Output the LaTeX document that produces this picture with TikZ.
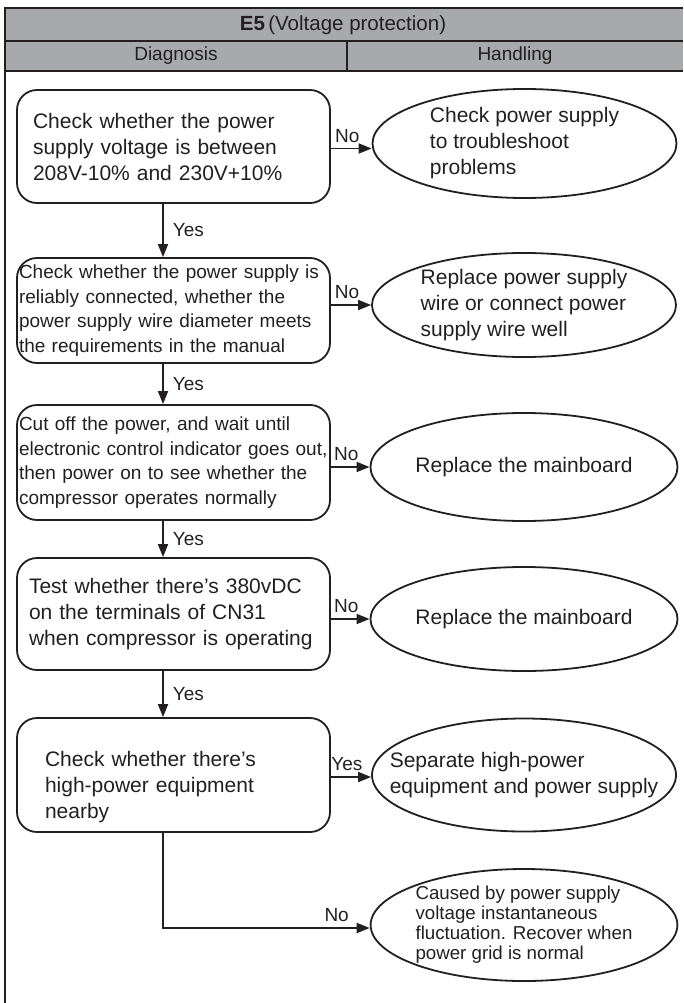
\documentclass[tikz,border=0pt]{standalone}
\usepackage{fontspec}
\setmainfont{Liberation Sans}
\usetikzlibrary{arrows.meta,shapes.geometric,positioning,quotes}
\definecolor{headgray}{HTML}{A7A9AC}
\definecolor{inkblack}{HTML}{231F20}

\begin{document}
\begin{tikzpicture}[x=1pt,y=1pt]
\tikzset{
  checkbox/.style={rectangle,rounded corners=20pt,draw=inkblack,line width=1.8pt,align=left,inner ysep=0pt,text=inkblack},
  fixbox/.style={ellipse,draw=inkblack,line width=1.8pt,align=left,inner sep=0pt,minimum width=304pt,text=inkblack,font=\bigtext},
  flowedge/.style={draw=inkblack,line width=1.8pt},
  directed/.style={flowedge,-{Triangle[length=13pt,width=10pt]}},
  edgelabel/.style={font=\labeltext,text=inkblack,inner sep=1pt},
  headline/.style={draw=inkblack,line width=2.2pt}
}
\newcommand{\bigtext}{\fontsize{21}{26}\selectfont}
\newcommand{\smalltext}{\fontsize{19}{24.5}\selectfont}
\newcommand{\tinytext}{\fontsize{18.7}{20}\selectfont}
\newcommand{\labeltext}{\fontsize{19}{22}\selectfont}
\useasboundingbox (0,0) rectangle (683,-1003);
% table head
\fill[headgray] (5,-8) rectangle (683,-71);
\draw[headline] (683,-8) -- (5,-8) -- (5,-1003);
\draw[headline] (5,-41) -- (683,-41);
\draw[headline] (5,-71) -- (683,-71);
\draw[headline] (347,-41) -- (347,-71);
\node[text=inkblack,font=\fontsize{20.5}{24}\selectfont] (n_title) at (343,-25) {\textbf{E5}\,(Voltage protection)};
\node[text=inkblack,font=\labeltext] (n_diag) at (176,-56) {Diagnosis};
\node[text=inkblack,font=\labeltext] (n_hand) at (515,-56) {Handling};
% diagnosis column
\node[checkbox,font=\bigtext,minimum height=113pt,text width=281pt,inner xsep=16pt] (n_chk_1) at (173.5,-146.5)
  {Check whether the power\\supply voltage is between\\208V-10\% and 230V+10\%};
\node[checkbox,font=\smalltext,minimum height=105pt,text width=309pt,inner xsep=2pt] (n_chk_2) at (173.5,-310.5)
  {Check whether the power supply is\\reliably connected, whether the\\power supply wire diameter meets\\the requirements in the manual};
\node[checkbox,font=\smalltext,minimum height=115pt,text width=309pt,inner xsep=2pt] (n_chk_3) at (173.5,-462.5)
  {Cut off the power, and wait until\\electronic control indicator goes out,\\then power on to see whether the\\compressor operates normally};
\node[checkbox,font=\bigtext,minimum height=112pt,text width=289pt,inner xsep=12pt] (n_chk_4) at (173.5,-614)
  {Test whether there's 380vDC\\on the terminals of CN31\\when compressor is operating};
\node[checkbox,font=\bigtext,minimum height=114pt,text width=257pt,inner xsep=28pt,text depth=33pt] (n_chk_5) at (173.5,-775)
  {Check whether there's\\high-power equipment\\nearby};
% handling column
\node[fixbox,minimum height=109pt] (n_fix_1) at (524.5,-143.5) {Check power supply\\to troubleshoot\\problems};
\node[fixbox,minimum height=104pt] (n_fix_2) at (524,-305) {Replace power supply\\wire or connect power\\supply wire well};
\node[fixbox,minimum height=108pt] (n_fix_3) at (524,-467) {Replace the mainboard};
\node[fixbox,minimum height=104pt] (n_fix_4) at (524,-619) {Replace the mainboard};
\node[fixbox,minimum height=113pt,inner xsep=-27pt] (n_fix_5) at (524,-775) {Separate high-power\\equipment and power supply};
\node[fixbox,font=\tinytext,minimum height=112pt] (n_fix_6) at (524,-925) {Caused by power supply\\voltage instantaneous\\fluctuation. Recover when\\power grid is normal};
% connectors
\draw[directed] (n_chk_1.east) ++(0,-2) coordinate (c_no_1) -- node[edgelabel,above=4pt,pos=0.4]{No} (c_no_1 -| n_fix_1.west);
\draw[directed] (n_chk_2.east |- n_fix_2.west) -- node[edgelabel,above=4pt,pos=0.4]{No} (n_fix_2.west);
\draw[directed] (n_chk_3.east |- n_fix_3.west) -- node[edgelabel,above=4pt,pos=0.4]{No} (n_fix_3.west);
\draw[directed] (n_chk_4.east |- n_fix_4.west) -- node[edgelabel,above=4pt,pos=0.4]{No} (n_fix_4.west);
\draw[directed] (n_chk_5.east) ++(0,-2) coordinate (c_yes_5) -- node[edgelabel,above=4pt,pos=0.4]{Yes} (c_yes_5 -| n_fix_5.west);
\draw[directed] ([xshift=-10.5pt]n_chk_1.south) -- node[edgelabel,right=8pt]{Yes} ([xshift=-10.5pt]n_chk_2.north);
\draw[directed] ([xshift=-10.5pt]n_chk_2.south) -- node[edgelabel,right=8pt]{Yes} ([xshift=-10.5pt]n_chk_3.north);
\draw[directed] ([xshift=-10.5pt]n_chk_3.south) -- node[edgelabel,right=8pt]{Yes} ([xshift=-10.5pt]n_chk_4.north);
\draw[directed] ([xshift=-10.5pt]n_chk_4.south) -- node[edgelabel,right=8pt]{Yes} ([xshift=-10.5pt]n_chk_5.north);
\draw[directed] ([xshift=-10.5pt]n_chk_5.south) |- node[edgelabel,above=4pt,pos=0.92]{No} ([yshift=-3pt]n_fix_6.west);
\end{tikzpicture}
\end{document}
